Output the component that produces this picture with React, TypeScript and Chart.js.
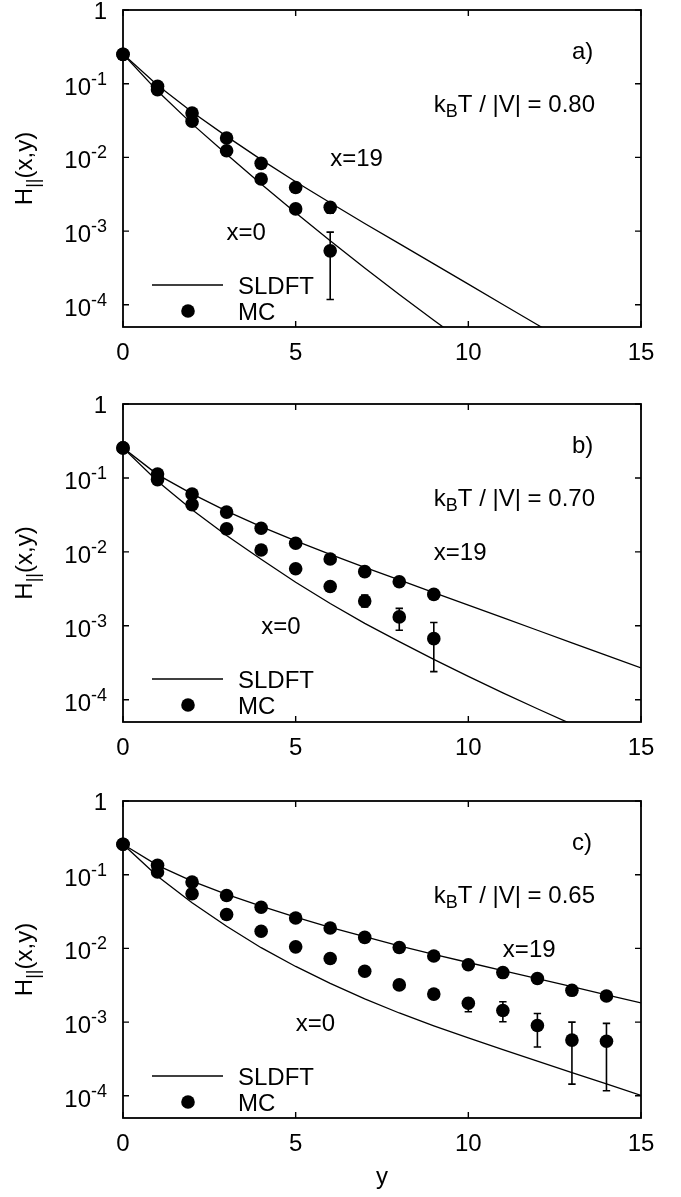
import { useEffect, useRef } from "react";
import { Chart, registerables } from "chart.js";

Chart.register(...registerables);

const FONT = '"Liberation Sans", Arial, Helvetica, sans-serif';
const MAIN = 24;
const SMALL = 18;

// Distance from the wall, y (lattice units)
const yGrid = [0, 1, 2, 3, 4, 5, 6, 7, 8, 9, 10, 11, 12, 13, 14, 15];
const xTickValues = [0, 5, 10, 15];
const decadeValues = [1, 1e-1, 1e-2, 1e-3, 1e-4];
const decadeExponents = [0, -1, -2, -3, -4];

// ---- a) kBT/|V| = 0.80 ----
const aTemperature = "0.80";
const aTheoryX19 = [0.253, 0.0955, 0.0412, 0.0193, 0.00933, 0.00468, 0.00243, 0.00127, 0.000676, 0.000359, 0.000191, 0.000101, 5.37e-5, 2.85e-5];
const aTheoryX0 = [0.253, 0.0794, 0.0285, 0.011, 0.00437, 0.00178, 0.000741, 0.000316, 0.000138, 6.17e-5, 2.82e-5];
const aMcY = [0, 1, 2, 3, 4, 5, 6];
const aMcX19 = [0.25, 0.092, 0.04, 0.0183, 0.0083, 0.0039, 0.0021];
const aMcX0 = [0.25, 0.083, 0.031, 0.0123, 0.0051, 0.002, 0.00054];
const aErrY = [5, 6, 6];
const aErrLo = [0.00175, 0.00175, 0.000118];
const aErrHi = [0.0023, 0.0024, 0.00097];

// ---- b) kBT/|V| = 0.70 ----
const bTemperature = "0.70";
const bTheoryX19 = [0.255, 0.1109, 0.061, 0.0356, 0.0219, 0.01406, 0.00923, 0.00617, 0.00417, 0.00282, 0.00191, 0.00129, 0.000871, 0.000589, 0.000398, 0.000269];
const bTheoryX0 = [0.255, 0.0902, 0.0372, 0.01667, 0.00794, 0.00389, 0.002, 0.00108, 0.00061, 0.000351, 0.000207, 0.000124, 7.55e-5, 4.66e-5];
const bMcY = [0, 1, 2, 3, 4, 5, 6, 7, 8, 9];
const bMcX19 = [0.255, 0.113, 0.0607, 0.0345, 0.0209, 0.0131, 0.008, 0.0054, 0.00395, 0.00266];
const bMcX0 = [0.255, 0.095, 0.0435, 0.0205, 0.0106, 0.0059, 0.0034, 0.00216, 0.00132, 0.00067];
const bErrY = [7, 8, 9];
const bErrLo = [0.0018, 0.00087, 0.00024];
const bErrHi = [0.0026, 0.00172, 0.00111];

// ---- c) kBT/|V| = 0.65 ----
const cTemperature = "0.65";
const cTheoryX19 = [0.259, 0.134, 0.082, 0.054, 0.0374, 0.0265, 0.0193, 0.0144, 0.01086, 0.00828, 0.00644, 0.00501, 0.00389, 0.00302, 0.00234, 0.00182];
const cTheoryX0 = [0.259, 0.0955, 0.0417, 0.01995, 0.01023, 0.00569, 0.00335, 0.00207, 0.00133, 0.000891, 0.00061, 0.000422, 0.000295, 0.000207, 0.000145, 0.000101];
const cMcY = [0, 1, 2, 3, 4, 5, 6, 7, 8, 9, 10, 11, 12, 13, 14];
const cMcX19 = [0.259, 0.134, 0.0794, 0.0523, 0.0362, 0.0259, 0.0189, 0.0141, 0.0103, 0.0079, 0.006, 0.0047, 0.0039, 0.0027, 0.00226];
const cMcX0 = [0.259, 0.109, 0.0551, 0.0288, 0.0171, 0.0105, 0.0073, 0.0049, 0.0032, 0.0024, 0.0018, 0.00144, 0.0009, 0.00057, 0.00055];
const cErrY = [9, 10, 11, 12, 13, 14, 14];
const cErrLo = [0.0021, 0.00138, 0.00101, 0.00046, 0.000144, 0.000117, 0.002];
const cErrHi = [0.0027, 0.0021, 0.00189, 0.00131, 0.001, 0.00096, 0.0025];

type PanelCfg = {
  tag: string;
  temperature: string;
  canvasHeight: number;
  padTop: number;
  padBottom: number;
  theory19: number[];
  theory0: number[];
  mcY: number[];
  mc19: number[];
  mc0: number[];
  errY: number[];
  errLo: number[];
  errHi: number[];
  label19At: [number, number];
  label0At: [number, number];
  xTitle: boolean;
};

const panels: PanelCfg[] = [
  {
    tag: "a)", temperature: aTemperature, canvasHeight: 380, padTop: 10, padBottom: 53,
    theory19: aTheoryX19, theory0: aTheoryX0, mcY: aMcY, mc19: aMcX19, mc0: aMcX0,
    errY: aErrY, errLo: aErrLo, errHi: aErrHi, label19At: [6, 1e-2], label0At: [3, 1e-3], xTitle: false,
  },
  {
    tag: "b)", temperature: bTemperature, canvasHeight: 390, padTop: 24, padBottom: 48,
    theory19: bTheoryX19, theory0: bTheoryX0, mcY: bMcY, mc19: bMcX19, mc0: bMcX0,
    errY: bErrY, errLo: bErrLo, errHi: bErrHi, label19At: [9, 1e-2], label0At: [4, 1e-3], xTitle: false,
  },
  {
    tag: "c)", temperature: cTemperature, canvasHeight: 427, padTop: 31, padBottom: 79,
    theory19: cTheoryX19, theory0: cTheoryX0, mcY: cMcY, mc19: cMcX19, mc0: cMcX0,
    errY: cErrY, errLo: cErrLo, errHi: cErrHi, label19At: [11, 1e-2], label0At: [5, 1e-3], xTitle: true,
  },
];

type Seg = { t: string; size: number; dy: number };

// Draws a run of text pieces (with sub/superscripts) on one baseline.
function drawRich(ctx: CanvasRenderingContext2D, segs: Seg[], x: number, y: number, align: "left" | "right" | "center") {
  const widths = segs.map((s) => {
    ctx.font = `${s.size}px ${FONT}`;
    return ctx.measureText(s.t).width;
  });
  const total = widths.reduce((a, b) => a + b, 0);
  let cx = align === "left" ? x : align === "right" ? x - total : x - total / 2;
  ctx.textAlign = "left";
  ctx.textBaseline = "alphabetic";
  segs.forEach((s, i) => {
    ctx.font = `${s.size}px ${FONT}`;
    ctx.fillText(s.t, cx, y + s.dy);
    cx += widths[i];
  });
}

function Panel({ cfg }: { cfg: PanelCfg }) {
  const ref = useRef<HTMLCanvasElement | null>(null);

  useEffect(() => {
    const canvas = ref.current;
    if (!canvas) return;
    const pts = (ys: number[], vals: number[]) => vals.map((v, i) => ({ x: ys[i], y: v }));

    const decor = {
      id: "panelDecor",
      afterDatasetsDraw(chart: any) {
        const ctx: CanvasRenderingContext2D = chart.ctx;
        const xs = chart.scales.x;
        const ys = chart.scales.y;
        ctx.save();
        ctx.strokeStyle = "#000";
        ctx.lineWidth = 1.6;
        cfg.errY.forEach((yv, i) => {
          const px = xs.getPixelForValue(yv);
          const lo = ys.getPixelForValue(cfg.errLo[i]);
          const hi = ys.getPixelForValue(cfg.errHi[i]);
          ctx.beginPath();
          ctx.moveTo(px, lo);
          ctx.lineTo(px, hi);
          ctx.moveTo(px - 3.7, lo);
          ctx.lineTo(px + 3.7, lo);
          ctx.moveTo(px - 3.7, hi);
          ctx.lineTo(px + 3.7, hi);
          ctx.stroke();
        });
        ctx.restore();
      },
      afterDraw(chart: any) {
        const ctx: CanvasRenderingContext2D = chart.ctx;
        const { left, right, top, bottom } = chart.chartArea;
        const xs = chart.scales.x;
        const ys = chart.scales.y;
        ctx.save();
        ctx.strokeStyle = "#000";
        ctx.fillStyle = "#000";

        // frame
        ctx.lineWidth = 1.8;
        ctx.strokeRect(left, top, right - left, bottom - top);

        // ticks (inward, mirrored)
        ctx.lineWidth = 1.4;
        ctx.beginPath();
        decadeValues.forEach((v) => {
          const py = ys.getPixelForValue(v);
          ctx.moveTo(left, py);
          ctx.lineTo(left + 6, py);
          ctx.moveTo(right, py);
          ctx.lineTo(right - 6, py);
        });
        xTickValues.forEach((v) => {
          const px = xs.getPixelForValue(v);
          ctx.moveTo(px, bottom);
          ctx.lineTo(px, bottom - 6);
          ctx.moveTo(px, top);
          ctx.lineTo(px, top + 6);
        });
        ctx.stroke();

        // y tick labels
        decadeValues.forEach((v, i) => {
          const py = ys.getPixelForValue(v);
          const e = decadeExponents[i];
          if (e === 0) {
            drawRich(ctx, [{ t: "1", size: MAIN, dy: 0 }], 107, py + 8.5, "right");
          } else {
            drawRich(
              ctx,
              [
                { t: "10", size: MAIN, dy: 0 },
                { t: String(e), size: SMALL, dy: -10 },
              ],
              107,
              py + 11,
              "right"
            );
          }
        });

        // x tick labels
        xTickValues.forEach((v) => {
          const px = xs.getPixelForValue(v);
          drawRich(ctx, [{ t: String(v), size: MAIN, dy: 0 }], px, bottom + 33, "center");
        });

        // y axis title
        ctx.save();
        ctx.translate(32, (top + bottom) / 2);
        ctx.rotate(-Math.PI / 2);
        drawRich(
          ctx,
          [
            { t: "H", size: MAIN, dy: 0 },
            { t: "||", size: SMALL, dy: 7 },
            { t: "(x,y)", size: MAIN, dy: 0 },
          ],
          0,
          0,
          "center"
        );
        ctx.restore();

        // x axis title
        if (cfg.xTitle) {
          drawRich(ctx, [{ t: "y", size: MAIN, dy: 0 }], (left + right) / 2, bottom + 66, "center");
        }

        // panel tag and temperature
        drawRich(ctx, [{ t: cfg.tag, size: MAIN, dy: 0 }], xs.getPixelForValue(13), top + 49, "left");
        drawRich(
          ctx,
          [
            { t: "k", size: MAIN, dy: 0 },
            { t: "B", size: SMALL, dy: 5 },
            { t: `T / |V| = ${cfg.temperature}`, size: MAIN, dy: 0 },
          ],
          xs.getPixelForValue(9),
          top + 102,
          "left"
        );

        // curve labels
        drawRich(
          ctx,
          [{ t: "x=19", size: MAIN, dy: 0 }],
          xs.getPixelForValue(cfg.label19At[0]),
          ys.getPixelForValue(cfg.label19At[1]) + 8.5,
          "left"
        );
        drawRich(
          ctx,
          [{ t: "x=0", size: MAIN, dy: 0 }],
          xs.getPixelForValue(cfg.label0At[0]),
          ys.getPixelForValue(cfg.label0At[1]) + 8.5,
          "left"
        );

        // key
        const lineY = top + 275;
        const dotY = top + 301;
        ctx.lineWidth = 1.3;
        ctx.beginPath();
        ctx.moveTo(152, lineY);
        ctx.lineTo(223, lineY);
        ctx.stroke();
        drawRich(ctx, [{ t: "SLDFT", size: MAIN, dy: 0 }], 238, lineY + 8.5, "left");
        ctx.beginPath();
        ctx.arc(188, dotY, 6.8, 0, Math.PI * 2);
        ctx.fill();
        drawRich(ctx, [{ t: "MC", size: MAIN, dy: 0 }], 238, dotY + 8.5, "left");

        ctx.restore();
      },
    };

    const chart = new Chart(canvas, {
      type: "scatter",
      data: {
        datasets: [
          {
            type: "line",
            label: "SLDFT x=19",
            data: pts(yGrid, cfg.theory19),
            borderColor: "#000",
            borderWidth: 1.3,
            pointRadius: 0,
            tension: 0,
            fill: false,
          },
          {
            type: "line",
            label: "SLDFT x=0",
            data: pts(yGrid, cfg.theory0),
            borderColor: "#000",
            borderWidth: 1.3,
            pointRadius: 0,
            tension: 0,
            fill: false,
          },
          {
            type: "scatter",
            label: "MC x=19",
            data: pts(cfg.mcY, cfg.mc19),
            backgroundColor: "#000",
            borderWidth: 0,
            pointRadius: 6.8,
            clip: false,
          },
          {
            type: "scatter",
            label: "MC x=0",
            data: pts(cfg.mcY, cfg.mc0),
            backgroundColor: "#000",
            borderWidth: 0,
            pointRadius: 6.8,
            clip: false,
          },
        ],
      } as any,
      options: {
        animation: false,
        responsive: false,
        maintainAspectRatio: false,
        events: [],
        layout: { padding: { left: 123, right: 40, top: cfg.padTop, bottom: cfg.padBottom } },
        scales: {
          x: { type: "linear", min: 0, max: 15, display: false },
          y: { type: "logarithmic", min: 5e-5, max: 1, display: false },
        },
        plugins: { legend: { display: false }, tooltip: { enabled: false } },
      } as any,
      plugins: [decor],
    });
    return () => chart.destroy();
  }, [cfg]);

  return (
    <canvas
      ref={ref}
      width={681}
      height={cfg.canvasHeight}
      style={{ display: "block", width: 681, height: cfg.canvasHeight }}
    />
  );
}

export default function App() {
  return (
    <div style={{ position: "absolute", left: 0, top: 0, width: 681, height: 1197, background: "#fff" }}>
      {panels.map((p) => (
        <Panel key={p.tag} cfg={p} />
      ))}
    </div>
  );
}
